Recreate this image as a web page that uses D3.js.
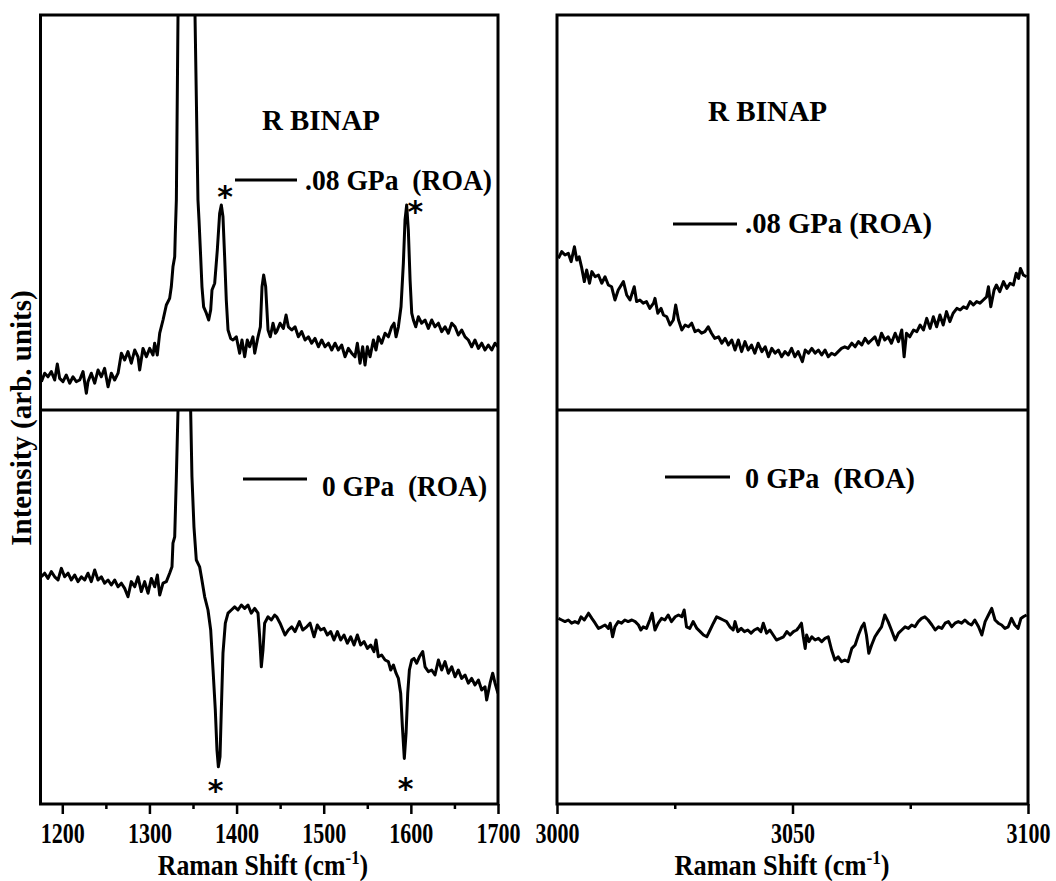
<!DOCTYPE html>
<html>
<head>
<meta charset="utf-8">
<script src="https://cdn.jsdelivr.net/npm/d3@7"></script>
<style>
  body { margin: 0; background: #fff; }
  svg { display: block; }
</style>
</head>
<body>
<svg id="chart" width="1056" height="881"></svg>
<script>
// ROA spectra, [Raman shift (cm-1), intensity (arb. units)]
const left08 = [[1176,7.1],[1179.8,9.2],[1183.6,8.3],[1187.4,9.6],[1191.3,7.5],[1194.3,11.5],[1197,7.9],[1200.8,7.1],[1204.6,8.75],[1208.5,6.7],[1212.3,8.3],[1216.1,7.1],[1220,7.5],[1223.8,9.6],[1227.6,4.2],[1229.5,7.1],[1233.3,9.2],[1237.2,6.7],[1241,10],[1244.8,8.3],[1248.6,10.4],[1252.5,5.8],[1256.3,9.2],[1260.1,7.5],[1264,9.2],[1267.8,14.2],[1271.6,12.5],[1275.4,14.6],[1279.2,11.7],[1283.1,15],[1286.9,13.3],[1288.8,10],[1292.6,15.4],[1296.5,13.3],[1300.3,15.4],[1304.1,13.75],[1306,16.7],[1309,13.75],[1311.8,19.2],[1315.6,22.5],[1319.4,26.25],[1323.2,27.9],[1325.1,30.8],[1327,35.8],[1329,38.3],[1329.7,44.2],[1330.9,52.5],[1332.8,98.75],[1342,140],[1352.3,98.75],[1355.7,52.5],[1356.9,47.5],[1358.8,38.3],[1360.3,30.8],[1362.2,25.8],[1365.3,24.2],[1368,22.5],[1370.3,25],[1371.8,30],[1374.9,31.7],[1377.9,40],[1380.6,49.2],[1382.5,51.25],[1384.4,48.3],[1386.3,38.3],[1388.2,27.5],[1390.2,20],[1393.2,17.9],[1395.9,17.5],[1399.7,18.3],[1403.5,14.2],[1406.2,17.5],[1409.3,13.3],[1412.3,17.5],[1415,15.8],[1418.8,18.3],[1420.8,14.2],[1424.6,18.3],[1427.3,20.8],[1429.2,30.8],[1431.1,33.75],[1433.4,30.8],[1436.1,20],[1438.7,18.3],[1441.8,21.7],[1444.5,19.2],[1446,19.6],[1449.9,21.7],[1453.7,20.4],[1456.8,23.75],[1459.4,20.8],[1463.3,20],[1467.1,20.8],[1470.9,18.3],[1474.7,19.6],[1478.6,17.5],[1482.4,18.3],[1486.2,16.7],[1490,17.9],[1493.9,15.8],[1497.7,17.5],[1501.5,15.8],[1505.4,16.7],[1509.2,15],[1513,16.7],[1516.8,15],[1520.6,16.25],[1524.5,13.3],[1528.3,15.4],[1532.1,14.2],[1535.9,13.3],[1538.6,16.7],[1541.7,11.7],[1544.7,15.8],[1547.4,11.25],[1550.1,15.8],[1553.2,13.3],[1557,17.5],[1560,15],[1562.7,18.3],[1566.5,16.7],[1570.4,19.2],[1574.2,18.3],[1578,20.8],[1580.7,21.7],[1583,18.3],[1585.7,20.8],[1588.7,25.8],[1591.4,36.7],[1593.3,47.5],[1595.2,51.25],[1597.1,45],[1599.1,32.5],[1601,24.2],[1602.9,22.5],[1605.6,20.8],[1608.6,23.3],[1612.4,21.7],[1616.3,22.5],[1620.1,20.4],[1623.9,22.5],[1627.7,20.8],[1631.6,21.7],[1635.4,19.6],[1639.2,20.8],[1643,19.2],[1646.9,21.7],[1650.7,20.8],[1654.5,18.75],[1658.3,20],[1662.2,18.3],[1666,17.5],[1669.8,15.8],[1673.6,17.5],[1677.5,15.4],[1681.3,16.7],[1685.1,15],[1688.9,16.25],[1692.8,15],[1696.6,16.7],[1700,15.8]];

const left0 = [[1176,56.8],[1179.8,57.7],[1183.6,56.4],[1187.4,58.1],[1191.3,56.8],[1195.1,56],[1198.9,58.9],[1202.7,56.8],[1206.6,57.7],[1210.4,56],[1214.2,57.25],[1218,55.6],[1221.9,56.8],[1225.7,56],[1229.5,57.7],[1233.3,55.6],[1237.2,58.5],[1241,56],[1244.8,56.8],[1248.6,55.2],[1252.5,56],[1256.3,54.75],[1260.1,56],[1264,54.3],[1267.8,55.2],[1271.6,53.9],[1275.4,51.8],[1279.2,55.6],[1283.1,54.3],[1286.9,56.8],[1290.7,53.1],[1294.5,55.6],[1298.4,52.7],[1302.2,56.4],[1306,54.3],[1309.1,57.25],[1311.8,52.25],[1315.6,55.2],[1319.4,55.6],[1323.2,57.7],[1325.9,59.3],[1327,65.2],[1329,66.8],[1330.9,81.8],[1332.8,98.5],[1340,140],[1347.3,98.5],[1348.8,81.8],[1351.1,69.3],[1353.8,61],[1357.6,59.3],[1359.6,56.8],[1363.4,51.8],[1367.2,48.5],[1370.3,43.5],[1373,33.5],[1375.6,23.5],[1377.5,13.5],[1379.1,9.3],[1381,11.8],[1382.5,23.5],[1384.4,37.7],[1387.1,45.2],[1390.2,47.7],[1394,48.5],[1397.8,49.3],[1401.6,48.5],[1405.5,49.75],[1409.3,48.9],[1413.1,49.75],[1416.9,47.7],[1420.8,48.9],[1424.6,47.7],[1426.5,41.8],[1428.4,34.3],[1430.3,38.5],[1432.2,45.2],[1436.1,46.8],[1439.9,46],[1443.7,47.25],[1446,46.8],[1449.9,45.2],[1455.6,42.25],[1459.4,43.5],[1463.3,44.3],[1467.1,43.1],[1472.1,45.6],[1475.9,43.5],[1480.5,44.3],[1484.3,45.2],[1488.9,41.8],[1492.7,44.75],[1496.5,43.5],[1500.4,43.9],[1504.2,42.25],[1508,43.1],[1511.8,41],[1515.7,43.1],[1519.5,41],[1523.3,42.25],[1527.1,40.2],[1531,41.8],[1534.8,39.75],[1538.6,42.25],[1542.4,39.75],[1546.3,40.6],[1550.1,38.9],[1553.9,39.75],[1557.7,38.1],[1560,41],[1562.7,36.8],[1566.5,37.25],[1570.4,36],[1574.2,35.6],[1576.9,33.5],[1580,34.75],[1583,32.7],[1585.7,31.4],[1588.3,27.7],[1590.3,19.3],[1592.5,11.4],[1594.5,17.7],[1596.4,27.7],[1598.3,33.5],[1601,36],[1603.6,36.4],[1606.7,35.2],[1609.8,36.8],[1613.6,38.1],[1616.3,34.3],[1620.1,33.1],[1623.9,33.5],[1627.7,32.25],[1631.6,36],[1635.4,33.5],[1639.2,35.6],[1643,32.7],[1646.9,34.3],[1650.7,31.8],[1654.5,33.5],[1658.3,31.4],[1662.2,32.25],[1666,30.2],[1669.8,31.4],[1673.6,29.75],[1677.5,31],[1681.3,28.5],[1685.1,29.3],[1687,26],[1690.9,30.2],[1693.9,32.7],[1696.6,30.2],[1700,27.7]];

const right08 = [[3000.3,37.9],[3001,39.6],[3001.7,38.75],[3002.4,39.2],[3003,37.1],[3003.7,40.8],[3004.2,37.5],[3004.7,38.3],[3005.2,35.8],[3005.8,32.1],[3006.3,35],[3006.9,31.7],[3007.4,34.6],[3008.1,33.3],[3008.8,33.75],[3009.5,31.7],[3010.2,33.3],[3010.9,31.25],[3011.6,30.8],[3012.3,27.5],[3013,30],[3014.1,32.1],[3014.8,28.75],[3015.5,27.5],[3016.4,30.8],[3016.9,27.1],[3017.6,27.5],[3018.3,26.7],[3019,27.1],[3019.7,25.4],[3020.5,26.7],[3020.8,27.9],[3021.4,24.2],[3022.1,25.4],[3022.6,23.75],[3023.3,23.3],[3024,21.25],[3024.7,22.5],[3025.2,26.25],[3025.8,22.5],[3026.5,20],[3027.2,21.25],[3027.9,20.8],[3028.6,21.7],[3029.3,19.6],[3030,20],[3030.7,19.2],[3031.4,19.6],[3032.1,20.8],[3032.8,19.2],[3033.5,17.9],[3034.3,18.3],[3035,16.7],[3035.7,17.9],[3036.4,16.25],[3037.1,17.5],[3037.8,15],[3038.5,17.5],[3039.2,14.6],[3039.9,17.1],[3040.6,15],[3041.3,16.25],[3042,14.2],[3042.7,16.7],[3043.5,14.6],[3044.2,15.8],[3044.9,13.3],[3045.6,15.4],[3046.3,14.2],[3047,15],[3047.7,13.3],[3048.4,14.6],[3049.1,13.75],[3049.8,15.4],[3050.5,13.3],[3051.2,14.6],[3052.1,12.1],[3052.7,15],[3053.4,14.2],[3054.1,15.4],[3054.8,14.2],[3055.5,15],[3056.2,13.75],[3056.9,15],[3057.6,13.3],[3058.3,14.2],[3059,13.75],[3059.7,14.6],[3060.4,15.4],[3061.1,15.8],[3061.8,15.4],[3062.6,16.7],[3063.3,15.8],[3064,17.1],[3064.7,16.25],[3065.4,17.9],[3066.1,16.7],[3066.8,17.5],[3067.5,18.3],[3068.2,16.25],[3068.9,19.2],[3069.6,17.5],[3070.3,18.3],[3071,16.7],[3071.8,19.2],[3072.5,17.1],[3073.2,20],[3073.7,13.3],[3074.2,19.2],[3074.9,18.3],[3075.7,20],[3076.4,19.6],[3077.1,21.25],[3077.8,20],[3078.5,22.9],[3079.2,20.4],[3079.9,23.3],[3080.6,20.8],[3081.3,23.75],[3082,21.25],[3082.7,24.6],[3083.4,22.1],[3084.1,24.2],[3084.9,25.4],[3085.6,25],[3086.3,25.8],[3087,25.4],[3087.7,27.1],[3088.4,26.25],[3089.1,27.1],[3089.8,26.7],[3090.5,27.5],[3091.2,28.3],[3091.6,30.8],[3092.1,25.8],[3092.8,30],[3093.3,31.25],[3094,29.6],[3094.8,32.1],[3095.5,30.4],[3096.2,31.7],[3096.9,31.25],[3097.5,34.2],[3098,32.9],[3098.4,35.4],[3099,33.75],[3099.7,33.3]];

const right0 = [[3000.3,46.4],[3001,46],[3001.7,45.6],[3002.4,46],[3003.1,45.2],[3003.8,45.6],[3004.5,45.2],[3005.1,46.8],[3005.8,46],[3006.7,47.7],[3007.4,46.4],[3008.1,45.2],[3008.8,43.9],[3009.5,44.3],[3010.2,44.75],[3010.9,43.9],[3011.3,45.2],[3011.8,41.8],[3012.3,44.3],[3013,45.6],[3013.7,45.2],[3014.4,46],[3015.1,45.6],[3015.9,46],[3016.6,45.6],[3017.3,44.75],[3017.8,43.5],[3018.3,44.3],[3019,43.9],[3019.7,46],[3020.2,47.7],[3020.8,43.5],[3021.5,45.2],[3022.2,46.4],[3022.9,46],[3023.6,47.25],[3024.3,45.6],[3025.1,46.8],[3025.8,47.25],[3026.5,46.8],[3027,48.5],[3027.5,44.3],[3028.2,43.9],[3028.9,45.6],[3029.7,43.9],[3030.4,43.1],[3031.1,42.25],[3031.8,41.8],[3032.5,43.5],[3033.2,45.2],[3033.9,46.8],[3034.6,46.4],[3035.3,46],[3036,45.6],[3036.7,44.3],[3037.4,43.5],[3037.8,45.6],[3038.4,43.1],[3039.1,43.9],[3039.8,43.1],[3040.5,43.5],[3041.2,42.7],[3041.9,43.5],[3042.6,43.9],[3043.3,43.1],[3043.8,45.2],[3044.5,42.7],[3045.2,43.5],[3045.9,42.25],[3046.6,41],[3047.4,41.4],[3048.1,41.8],[3048.8,43.1],[3049.5,42.25],[3050.2,43.1],[3050.9,43.5],[3051.4,44.3],[3051.9,45.2],[3052.3,41.8],[3052.7,38.9],[3053,42.25],[3053.5,40.6],[3054.1,41.8],[3054.8,41],[3055.5,41.4],[3056.2,40.6],[3056.9,41.4],[3057.6,41.8],[3058.3,38.5],[3059,36],[3059.7,36.8],[3060.4,35.6],[3061.1,36],[3061.8,35.6],[3062.6,38.9],[3063.3,39.75],[3064,42.25],[3064.7,44.3],[3065.2,45.2],[3065.7,42.25],[3066.2,37.7],[3066.8,39.75],[3067.5,41.8],[3068.2,43.1],[3068.9,44.3],[3069.6,47.25],[3070.3,45.6],[3071,43.5],[3071.8,41],[3072.5,42.7],[3073.2,43.5],[3073.9,44.3],[3074.6,43.9],[3075.3,44.75],[3076,44.3],[3076.7,45.6],[3077.4,46.4],[3078.1,46.8],[3078.8,46],[3079.6,44.75],[3080.3,43.5],[3081,44.3],[3081.7,43.9],[3082.4,45.2],[3083.1,45.6],[3083.8,44.3],[3084.5,45.2],[3085.2,45.6],[3085.9,45.2],[3086.6,46],[3087.3,45.2],[3088,44.75],[3088.7,46],[3089.5,44.3],[3090.2,42.25],[3090.9,45.6],[3091.6,47.25],[3092.3,48.9],[3093,46],[3093.7,45.2],[3094.4,44.75],[3095.1,43.9],[3095.8,44.3],[3096.5,46.4],[3097.2,44.75],[3097.9,43.9],[3098.5,46.4],[3099,46.8],[3099.7,47.25]];

// tick values
const leftMajor = [1200, 1300, 1400, 1500, 1600, 1700];
const leftMinor = [1250, 1350, 1450, 1550, 1650];
const rightMajor = [3000, 3050, 3100];
const rightMinor = [3025, 3075];

// peak markers [shift, intensity]
const starsUpper = [[1386.7, 55], [1605.3, 51.25]];
const starsLower = [[1375.8, 5], [1593.9, 5.5]];

const FONT = "Liberation Serif";

const svg = d3.select("#chart");

const yTop = 15, yMid = 410, yBot = 804;

const xLeft = d3.scaleLinear().domain([1175, 1700]).range([40.5, 498]);
const xRight = d3.scaleLinear().domain([3000, 3100]).range([557, 1028]);
const yUpper = d3.scaleLinear().domain([0, 98.75]).range([yMid, yTop]);
const yLower = d3.scaleLinear().domain([0, 98.5]).range([yBot, yMid]);

const panels = [
    { id: "lu", x: xLeft, y: yUpper, data: left08 },
    { id: "ll", x: xLeft, y: yLower, data: left0 },
    { id: "ru", x: xRight, y: yUpper, data: right08 },
    { id: "rl", x: xRight, y: yLower, data: right0 }
];

const defs = svg.append("defs");

//traces, clipped to their own panel
panels.forEach(p => {
    const [x0, x1] = p.x.range();
    const [b, t] = p.y.range();
    defs.append("clipPath").attr("id", "clip-" + p.id)
        .append("rect")
        .attr("x", x0).attr("y", t)
        .attr("width", x1 - x0).attr("height", b - t);

    const line = d3.line()
        .x(d => p.x(d[0]))
        .y(d => p.y(d[1]));

    svg.append("path")
        .datum(p.data)
        .attr("clip-path", `url(#clip-${p.id})`)
        .attr("fill", "none")
        .attr("stroke", "#000")
        .attr("stroke-width", 3)
        .attr("stroke-linejoin", "round")
        .attr("d", line);
});

//frames
[xLeft, xRight].forEach(x => {
    const [x0, x1] = x.range();
    svg.append("rect")
        .attr("x", x0).attr("y", yTop)
        .attr("width", x1 - x0).attr("height", yBot - yTop)
        .attr("fill", "none").attr("stroke", "#000").attr("stroke-width", 3);
    svg.append("line")
        .attr("x1", x0).attr("x2", x1)
        .attr("y1", yMid).attr("y2", yMid)
        .attr("stroke", "#000").attr("stroke-width", 3);
});

//axes (tick labels are narrow in the original, so squeeze them)
function addAxis(x, major, minor) {
    const gMaj = svg.append("g")
        .attr("transform", `translate(0,${yBot})`)
        .call(d3.axisBottom(x).tickValues(major).tickSize(10).tickPadding(8).tickFormat(d3.format("d")));
    const gMin = svg.append("g")
        .attr("transform", `translate(0,${yBot})`)
        .call(d3.axisBottom(x).tickValues(minor).tickSize(5).tickFormat(""));
    [gMaj, gMin].forEach(g => {
        g.select(".domain").remove();
        g.selectAll(".tick line").attr("stroke", "#000").attr("stroke-width", 2.5);
    });
    gMaj.attr("font-family", FONT).attr("font-size", 29).attr("font-weight", "bold");
    gMaj.selectAll(".tick text")
        .attr("fill", "#000")
        .attr("transform", "scale(0.76,1)");
}
addAxis(xLeft, leftMajor, leftMinor);
addAxis(xRight, rightMajor, rightMinor);

//axis titles, squeezed horizontally like the original
function xTitle(cx, sx) {
    const t = svg.append("text")
        .attr("transform", `translate(${cx},875) scale(${sx},1)`)
        .attr("text-anchor", "middle")
        .attr("font-family", FONT)
        .attr("font-weight", "bold")
        .attr("font-size", 29);
    t.append("tspan").text("Raman Shift (cm");
    t.append("tspan").attr("dy", -11).attr("font-size", 19).text("-1");
    t.append("tspan").attr("dy", 11).text(")");
}
xTitle(263, 0.89);
xTitle(782, 0.91);

svg.append("text")
    .attr("transform", "rotate(-90)")
    .attr("x", -418).attr("y", 31)
    .attr("text-anchor", "middle")
    .attr("font-family", FONT)
    .attr("font-weight", "bold")
    .attr("font-size", 29)
    .text("Intensity (arb. units)");

//sample labels and legends
const labels = [
    { x: 262, y: 130, len: 118, text: "R BINAP" },
    { x: 708, y: 121, len: 119, text: "R BINAP" },
    { x: 305, y: 190, len: 187, text: ".08 GPa  (ROA)" },
    { x: 322, y: 496, len: 165, text: "0 GPa  (ROA)" },
    { x: 745, y: 233, len: 187, text: ".08 GPa (ROA)" },
    { x: 745, y: 488, len: 170, text: "0 GPa  (ROA)" }
];
svg.selectAll("text.lab")
    .data(labels)
    .enter()
    .append("text")
    .attr("class", "lab")
    .attr("x", d => d.x)
    .attr("y", d => d.y)
    .attr("font-family", FONT)
    .attr("font-weight", "bold")
    .attr("font-size", 29)
    .attr("textLength", d => d.len)
    .attr("lengthAdjust", "spacingAndGlyphs")
    .style("white-space", "pre")
    .text(d => d.text);

const legendLines = [[235, 297, 180], [243, 307, 479], [673, 737, 224], [665, 730, 477]];
svg.selectAll("line.leg")
    .data(legendLines)
    .enter()
    .append("line")
    .attr("class", "leg")
    .attr("x1", d => d[0]).attr("x2", d => d[1])
    .attr("y1", d => d[2]).attr("y2", d => d[2])
    .attr("stroke", "#000").attr("stroke-width", 3);

//asterisks on the marked bands
function stars(data, y) {
    svg.selectAll(null)
        .data(data)
        .enter()
        .append("text")
        .attr("x", d => xLeft(d[0]))
        .attr("y", d => y(d[1]) + 17)
        .attr("text-anchor", "middle")
        .attr("font-family", "DejaVu Sans")
        .attr("font-weight", "bold")
        .attr("font-size", 30)
        .text("*");
}
stars(starsUpper, yUpper);
stars(starsLower, yLower);
</script>
</body>
</html>
